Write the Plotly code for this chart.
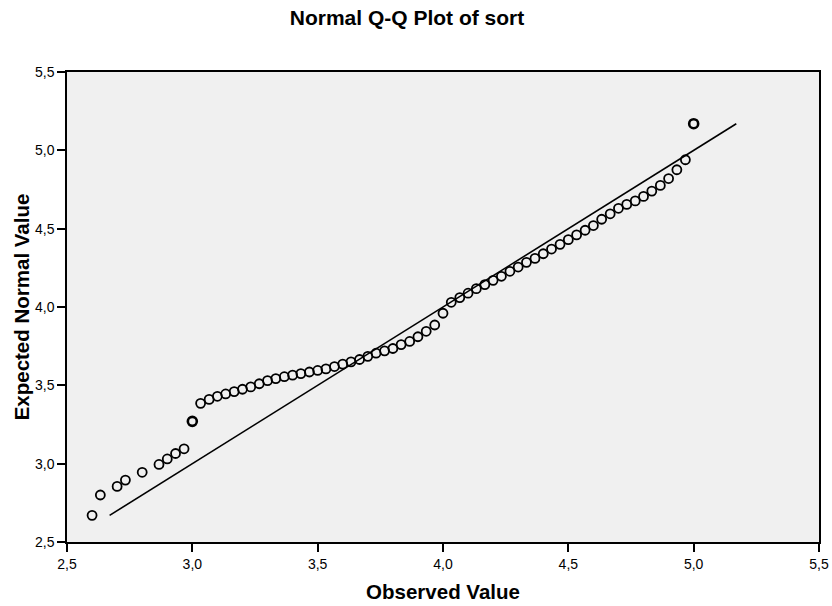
import plotly.graph_objects as go

observed = [2.6, 2.633, 2.7, 2.733, 2.8, 2.867, 2.9, 2.933, 2.967, 3.0,
            3.033, 3.067, 3.1, 3.133, 3.167, 3.2, 3.233, 3.267, 3.3, 3.333,
            3.367, 3.4, 3.433, 3.467, 3.5, 3.533, 3.567, 3.6, 3.633, 3.667,
            3.7, 3.733, 3.767, 3.8, 3.833, 3.867, 3.9, 3.933, 3.967, 4.0,
            4.033, 4.067, 4.1, 4.133, 4.167, 4.2, 4.233, 4.267, 4.3, 4.333,
            4.367, 4.4, 4.433, 4.467, 4.5, 4.533, 4.567, 4.6, 4.633, 4.667,
            4.7, 4.733, 4.767, 4.8, 4.833, 4.867, 4.9, 4.933, 4.967, 5.0]

expected = [2.67, 2.80, 2.855, 2.895, 2.945, 2.995, 3.03, 3.065, 3.095, 3.27,
            3.385, 3.41, 3.43, 3.445, 3.46, 3.475, 3.49, 3.51, 3.53, 3.543,
            3.555, 3.565, 3.575, 3.585, 3.595, 3.605, 3.62, 3.635, 3.65, 3.665,
            3.685, 3.705, 3.72, 3.735, 3.76, 3.78, 3.81, 3.845, 3.885, 3.96,
            4.03, 4.06, 4.088, 4.117, 4.143, 4.17, 4.196, 4.228, 4.255, 4.285,
            4.31, 4.34, 4.37, 4.40, 4.43, 4.46, 4.49, 4.52, 4.56, 4.595,
            4.63, 4.655, 4.677, 4.706, 4.74, 4.776, 4.82, 4.876, 4.94, 5.17]

bold_values = [3.0, 5.0]

x_ticks = [2.5, 3.0, 3.5, 4.0, 4.5, 5.0, 5.5]
y_ticks = [2.5, 3.0, 3.5, 4.0, 4.5, 5.0, 5.5]

title_text = "Normal Q-Q Plot of sort"
x_title = "Observed Value"
y_title = "Expected Normal Value"

FONT = "Liberation Sans, Arial, sans-serif"

line_lo = min(expected)
line_hi = max(expected)

widths = [2.6 if v in bold_values else 1.8 for v in observed]

fig = go.Figure()
fig.add_trace(go.Scatter(
    x=[line_lo, line_hi], y=[line_lo, line_hi], mode="lines",
    line=dict(color="black", width=1.6), hoverinfo="skip", showlegend=False))
fig.add_trace(go.Scatter(
    x=observed, y=expected, mode="markers",
    marker=dict(symbol="circle-open", size=9, color="black",
                line=dict(color="black", width=widths)),
    showlegend=False))

axis_common = dict(
    showgrid=False, zeroline=False, showline=True, linecolor="black",
    linewidth=1.5, mirror=True, ticks="outside", ticklen=8, tickwidth=1.5,
    tickcolor="black", tickformat=".1f", automargin=False,
    tickfont=dict(family=FONT, size=14, color="black"),
)

fig.update_layout(
    width=832, height=606,
    paper_bgcolor="white", plot_bgcolor="#f0f0f0",
    separators=",.",
    margin=dict(l=67, r=13, t=72, b=64),
    title=dict(text="<b>" + title_text + "</b>", x=407 / 832, xanchor="center",
               y=1 - 18 / 606, yanchor="middle",
               font=dict(family=FONT, size=21, color="black")),
    xaxis=dict(range=[2.5, 5.5], tickvals=x_ticks,
               title=dict(text="<b>" + x_title + "</b>", standoff=14,
                          font=dict(family=FONT, size=20.5, color="black")),
               **axis_common),
    yaxis=dict(range=[2.5, 5.5], tickvals=y_ticks,
               title=dict(text="<b>" + y_title + "</b>", standoff=0,
                          font=dict(family=FONT, size=20.5, color="black")),
               **axis_common),
)

fig.write_html("out.html", config={"displayModeBar": False},
               post_script="document.body.style.margin='0';")
